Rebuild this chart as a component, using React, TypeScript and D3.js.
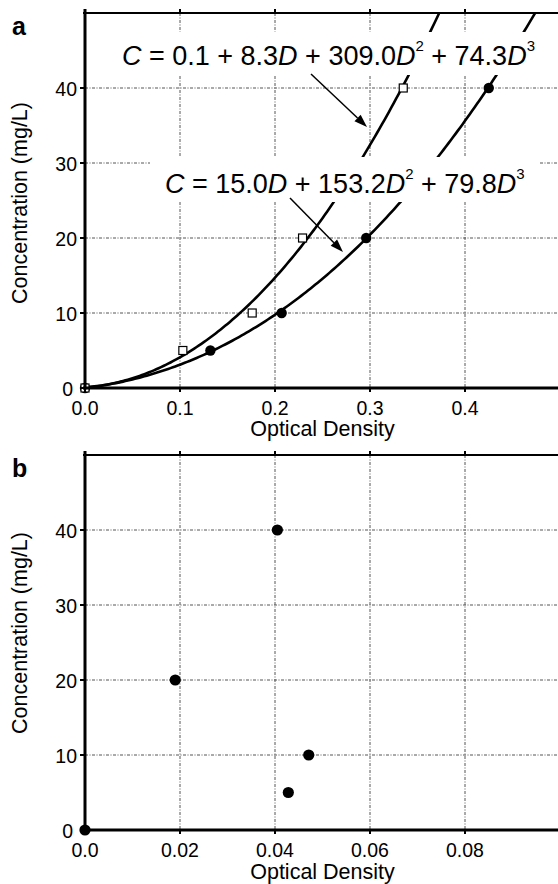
import React from "react";
import * as d3 from "d3";

// ---- data ----
const squareOD = [0, 0.103, 0.176, 0.229, 0.335];
const squareConc = [0, 5, 10, 20, 40];
const circleOD = [0, 0.132, 0.207, 0.296, 0.425];
const circleConc = [0, 5, 10, 20, 40];
const fitSquare = [0.1, 8.3, 309.0, 74.3];
const fitCircle = [0, 15.0, 153.2, 79.8];
const bOD = [0, 0.019, 0.0405, 0.0428, 0.0471];
const bConc = [0, 20, 40, 5, 10];
const yTicks = [0, 10, 20, 30, 40];
const xTicksA = [0, 0.1, 0.2, 0.3, 0.4];
const xLabelsA = ["0.0", "0.1", "0.2", "0.3", "0.4"];
const xTicksB = [0, 0.02, 0.04, 0.06, 0.08];
const xLabelsB = ["0.0", "0.02", "0.04", "0.06", "0.08"];

const FONT = "'Liberation Sans', Arial, Helvetica, sans-serif";
const GRID_DASH = "3,1.5,1,1.5";

type PanelProps = {
  top: number;
  bottom: number;
  xMax: number;
  xTicks: number[];
  xLabels: string[];
  tickBaseline: number;
  titleBaseline: number;
  yTitleCenter: number;
  letter: string;
  letterBaseline: number;
  id: string;
  children?: (x: d3.ScaleLinear<number, number>, y: d3.ScaleLinear<number, number>) => React.ReactNode;
};

const LEFT = 85;
const RIGHT = 560;

function Panel(p: PanelProps) {
  const x = d3.scaleLinear().domain([0, p.xMax]).range([LEFT, RIGHT]);
  const y = d3.scaleLinear().domain([0, 50]).range([p.bottom, p.top]);
  return (
    <g>
      <defs>
        <clipPath id={p.id}>
          <rect x={LEFT} y={p.top} width={RIGHT - LEFT} height={p.bottom - p.top} />
        </clipPath>
      </defs>
      {/* grid */}
      {p.xTicks.slice(1).map((t) => (
        <line key={"gx" + t} x1={x(t)} x2={x(t)} y1={p.top} y2={p.bottom} stroke="#555" strokeWidth={1} strokeDasharray={GRID_DASH} />
      ))}
      {yTicks.slice(1).map((t) => (
        <line key={"gy" + t} x1={LEFT} x2={RIGHT} y1={y(t)} y2={y(t)} stroke="#555" strokeWidth={1} strokeDasharray={GRID_DASH} />
      ))}
      {p.children && p.children(x, y)}
      {/* axes */}
      <line x1={LEFT - 2} x2={RIGHT} y1={p.top} y2={p.top} stroke="#000" strokeWidth={2} />
      {p.xTicks.map((t) => (
        <line key={"tt" + t} x1={x(t)} x2={x(t)} y1={p.top - 4} y2={p.top} stroke="#000" strokeWidth={2} />
      ))}
      <line x1={LEFT - 2} x2={RIGHT} y1={p.bottom} y2={p.bottom} stroke="#000" strokeWidth={3} />
      {p.xTicks.map((t) => (
        <line key={"bt" + t} x1={x(t)} x2={x(t)} y1={p.bottom} y2={p.bottom + 4} stroke="#000" strokeWidth={2} />
      ))}
      <line x1={LEFT} x2={LEFT} y1={p.top - 4} y2={p.bottom + 1.5} stroke="#000" strokeWidth={3} />
      {yTicks.map((t) => (
        <line key={"lt" + t} x1={LEFT - 5} x2={LEFT} y1={y(t)} y2={y(t)} stroke="#000" strokeWidth={2} />
      ))}
      {/* tick labels */}
      {yTicks.map((t) => (
        <text key={"yl" + t} x={t === 0 ? 73 : 77} y={y(t) + 7.5} textAnchor="end" fontFamily={FONT} fontSize={19.5}>
          {t}
        </text>
      ))}
      {p.xTicks.map((t, i) => (
        <text key={"xl" + t} x={x(t)} y={p.tickBaseline} textAnchor="middle" fontFamily={FONT} fontSize={19.5}>
          {p.xLabels[i]}
        </text>
      ))}
      <text x={(LEFT + RIGHT) / 2} y={p.titleBaseline} textAnchor="middle" fontFamily={FONT} fontSize={21.5}>
        Optical Density
      </text>
      <text transform={`translate(27,${p.yTitleCenter}) rotate(-90)`} textAnchor="middle" fontFamily={FONT} fontSize={21.5}>
        Concentration (mg/L)
      </text>
      <text x={12} y={p.letterBaseline} fontFamily={FONT} fontSize={25} fontWeight="bold">
        {p.letter}
      </text>
    </g>
  );
}

function cubic(c: number[], d: number) {
  return c[0] + c[1] * d + c[2] * d * d + c[3] * d * d * d;
}

function Equation({ x, y, parts }: { x: number; y: number; parts: { t: string; it?: boolean; sup?: boolean }[] }) {
  return (
    <text x={x} y={y} fontFamily={FONT} fontSize={27} xmlSpace="preserve">
      {parts.map((p, i) =>
        p.sup ? (
          <tspan key={i} fontSize={15} dy={-14}>
            {p.t}
          </tspan>
        ) : (
          <tspan key={i} fontStyle={p.it ? "italic" : "normal"} dy={i > 0 && parts[i - 1].sup ? 14 : 0}>
            {p.t}
          </tspan>
        )
      )}
    </text>
  );
}

function Arrow({ x1, y1, x2, y2 }: { x1: number; y1: number; x2: number; y2: number }) {
  const a = Math.atan2(y2 - y1, x2 - x1);
  const L = 13, Wd = 4.5;
  const bx = x2 - L * Math.cos(a), by = y2 - L * Math.sin(a);
  const px = -Math.sin(a) * Wd, py = Math.cos(a) * Wd;
  return (
    <g>
      <line x1={x1} y1={y1} x2={bx} y2={by} stroke="#000" strokeWidth={1.5} />
      <polygon points={`${x2},${y2} ${bx + px},${by + py} ${bx - px},${by - py}`} fill="#000" />
    </g>
  );
}

export default function App() {
  const dGrid = d3.range(0, 0.5001, 0.0025);
  return (
    <svg width={558} height={884} style={{ position: "absolute", left: 0, top: 0, background: "#fff" }}>
      <rect width={558} height={884} fill="#fff" />
      <Panel
        id="clipA"
        top={13}
        bottom={388}
        xMax={0.5}
        xTicks={xTicksA}
        xLabels={xLabelsA}
        tickBaseline={415}
        titleBaseline={436}
        yTitleCenter={203}
        letter="a"
        letterBaseline={35}
      >
        {(x, y) => {
          const line = d3
            .line<number>()
            .x((d) => x(d))
            .curve(d3.curveLinear);
          return (
            <g>
              <g clipPath="url(#clipA)">
                <path d={line.y((d) => y(cubic(fitSquare, d)))(dGrid) || ""} fill="none" stroke="#000" strokeWidth={2.6} />
                <path d={line.y((d) => y(cubic(fitCircle, d)))(dGrid) || ""} fill="none" stroke="#000" strokeWidth={2.6} />
              </g>
              {circleOD.map((d, i) => (
                <circle key={"c" + i} cx={x(d)} cy={y(circleConc[i])} r={5.2} fill="#000" />
              ))}
              {squareOD.map((d, i) => (
                <rect key={"s" + i} x={x(d) - 4} y={y(squareConc[i]) - 4} width={8} height={8} fill="#fff" stroke="#000" strokeWidth={1.2} />
              ))}
              <rect x={110} y={32} width={440} height={43} fill="#fff" />
              <rect x={150} y={157} width={390} height={45} fill="#fff" />
              <Equation
                x={122}
                y={65}
                parts={[
                  { t: "C", it: true },
                  { t: " = 0.1 + 8.3" },
                  { t: "D", it: true },
                  { t: " + 309.0" },
                  { t: "D", it: true },
                  { t: "2", sup: true },
                  { t: " + 74.3" },
                  { t: "D", it: true },
                  { t: "3", sup: true },
                ]}
              />
              <Equation
                x={165}
                y={193}
                parts={[
                  { t: "C", it: true },
                  { t: " = 15.0" },
                  { t: "D", it: true },
                  { t: " + 153.2" },
                  { t: "D", it: true },
                  { t: "2", sup: true },
                  { t: " + 79.8" },
                  { t: "D", it: true },
                  { t: "3", sup: true },
                ]}
              />
              <Arrow x1={311} y1={74} x2={367} y2={127} />
              <Arrow x1={290} y1={198} x2={343} y2={252} />
            </g>
          );
        }}
      </Panel>
      <Panel
        id="clipB"
        top={455}
        bottom={830}
        xMax={0.1}
        xTicks={xTicksB}
        xLabels={xLabelsB}
        tickBaseline={857}
        titleBaseline={879}
        yTitleCenter={633}
        letter="b"
        letterBaseline={477}
      >
        {(x, y) => (
          <g>
            {bOD.map((d, i) => (
              <circle key={"b" + i} cx={x(d)} cy={y(bConc[i])} r={5.6} fill="#000" />
            ))}
          </g>
        )}
      </Panel>
    </svg>
  );
}
